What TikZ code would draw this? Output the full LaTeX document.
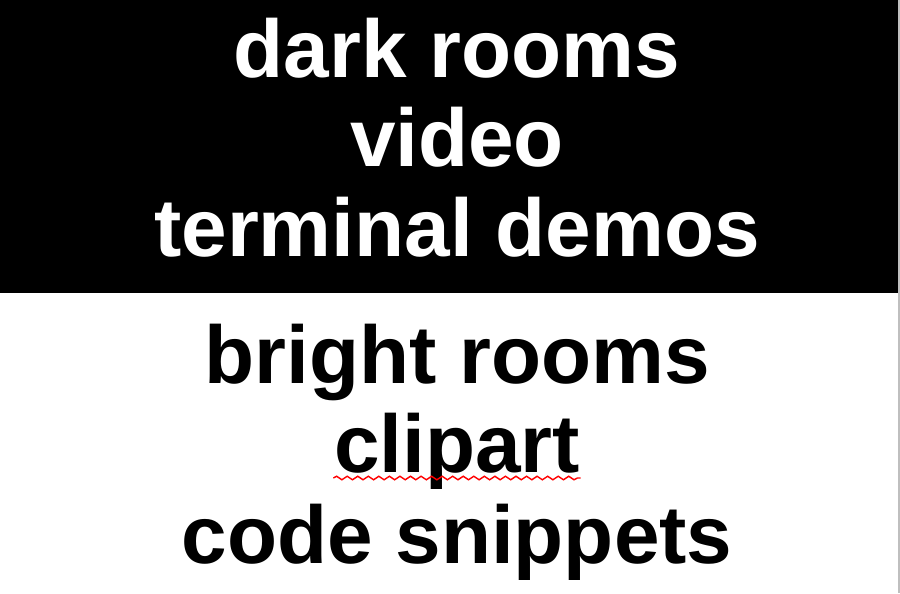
\documentclass[tikz,border=0pt]{standalone}
\usepackage{fontspec}
\setmainfont{Liberation Sans}
\usepackage{tikz}
\usetikzlibrary{calc,decorations.pathmorphing}

\begin{document}
\begin{tikzpicture}[x=0.01cm,y=0.01cm,
    word/.style={anchor=base,inner sep=0pt,font=\fontsize{23.3}{25}\selectfont\bfseries},
    darkword/.style={word,text=white},
    brightword/.style={word,text=black}]
                 \useasboundingbox (0,0) rectangle (900,-593);
                 \fill[black] (0,0) rectangle (898,-293);
                 \draw[color=black!25,line width=0.6pt] (899,0) -- (899,-593);
                 % dark half
                 \node[darkword](dark)at(457,-77){dark rooms};
                 \node[darkword](video)at(457,-166){video};
                 \node[darkword](terminal)at(457,-256){terminal demos};
                 % bright half
                 \node[brightword](bright)at(457,-383){bright rooms};
                 \node[brightword](clipart)at(457,-472){clipart};
                 \node[brightword](snippets)at(457,-563){code snippets};
                 \draw[red,line width=0.4pt,decorate,decoration={snake,amplitude=0.5pt,segment length=3pt}]
                   ($(clipart.base west)+(0,-6)$) -- ($(clipart.base east)+(0,-6)$);
               \end{tikzpicture}
\end{document}
